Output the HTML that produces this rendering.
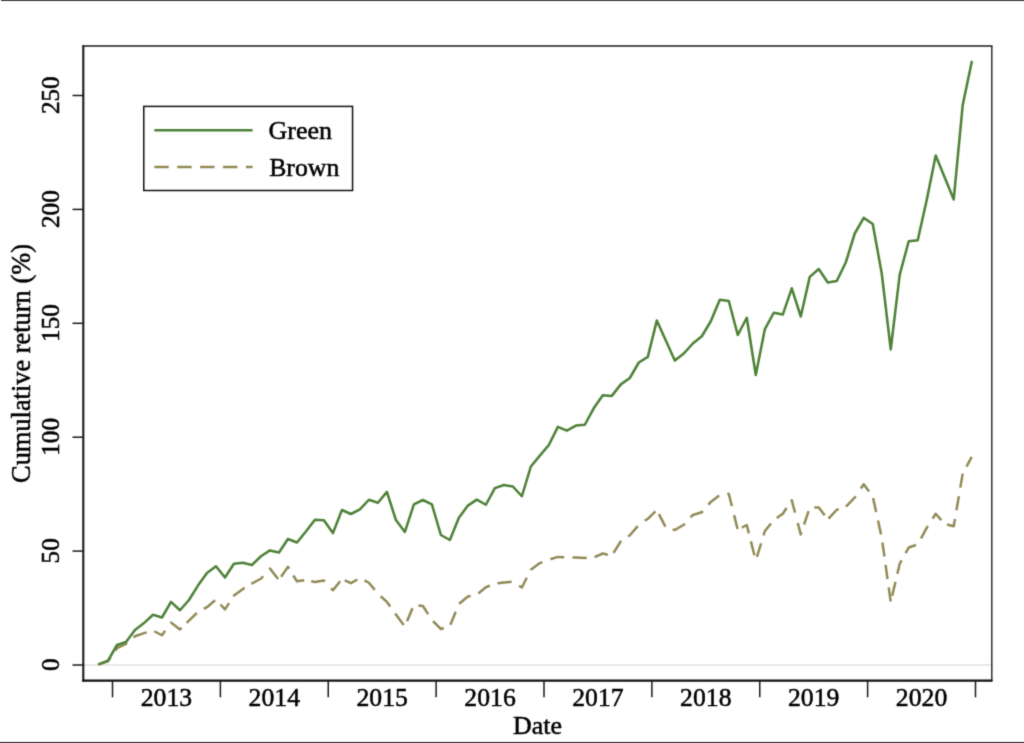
<!DOCTYPE html>
<html><head><meta charset="utf-8"><title>Cumulative return</title>
<style>
html,body{margin:0;padding:0;background:#fff;}
body{width:1024px;height:743px;position:relative;overflow:hidden;font-family:"Liberation Serif",serif;}
.t{font-family:"Liberation Serif",serif;font-size:25.7px;fill:#000;stroke:#000;stroke-width:0.5px;}
</style></head><body>
<svg width="1024" height="743" viewBox="0 0 1024 743" style="position:absolute;left:0;top:0;filter:url(#soft)">
<defs><filter id="soft" x="0" y="0" width="1024" height="743" filterUnits="userSpaceOnUse" color-interpolation-filters="sRGB"><feConvolveMatrix order="3" kernelMatrix="0.01917 0.10012 0.01917 0.10012 0.52283 0.10012 0.01917 0.10012 0.01917" divisor="1" edgeMode="duplicate" preserveAlpha="false"/></filter></defs>
<rect x="0" y="0" width="1024" height="743" fill="#fff"/>
<rect x="1" y="0" width="1023" height="1" fill="#3a3a3a"/>
<rect x="0" y="742" width="1024" height="1" fill="#2d2d2d"/>
<line x1="84" y1="665" x2="993" y2="665" stroke="#e2e2e2" stroke-width="1.6"/>
<polyline points="99.00,664.40 108.00,661.25 116.99,648.10 125.99,643.75 134.99,636.25 143.99,633.10 152.98,630.60 161.98,635.25 170.98,622.50 179.97,629.40 188.97,620.60 197.97,611.90 206.96,607.20 215.96,599.50 224.96,609.40 233.95,595.60 242.95,589.00 251.95,583.50 260.95,578.75 269.94,568.50 278.94,580.00 287.94,566.90 296.93,581.25 305.93,580.00 314.93,582.00 323.93,580.60 332.92,590.25 341.92,579.00 350.92,583.10 359.91,578.10 368.91,582.75 377.91,593.75 386.90,601.90 395.90,614.40 404.90,626.50 413.89,604.90 422.89,606.00 431.89,620.00 440.89,629.00 449.88,626.00 458.88,604.00 467.88,596.50 476.87,594.75 485.87,587.25 494.87,583.50 503.87,582.50 512.86,581.75 521.86,587.50 530.86,569.70 539.85,563.10 548.85,559.75 557.85,556.90 566.84,557.25 575.84,557.50 584.84,557.90 593.84,557.50 602.83,553.50 611.83,555.60 620.83,541.25 629.82,535.30 638.82,525.00 647.82,518.80 656.81,510.00 665.81,527.50 674.81,530.00 683.80,524.75 692.80,515.00 701.80,512.25 710.80,501.90 719.79,495.00 728.79,493.75 737.79,530.00 746.78,525.00 755.78,560.60 764.78,531.25 773.77,520.00 782.77,513.75 791.77,500.30 800.77,534.40 809.76,507.50 818.76,507.50 827.76,519.40 836.75,509.75 845.75,506.90 854.75,497.50 863.75,484.20 872.74,496.50 881.74,537.50 890.74,601.90 899.73,563.75 908.73,547.50 917.73,544.40 926.72,527.80 935.72,513.75 944.72,524.00 953.72,526.25 962.71,473.50 971.71,456.90" fill="none" stroke="#928a56" stroke-width="2.5" stroke-dasharray="14.20 8.40 14.20 8.54 14.20 7.92 14.20 9.55 14.20 7.02 14.20 8.16 14.20 7.95 14.20 7.91 14.20 7.77 14.20 9.36 14.20 5.26 14.20 7.96 14.20 7.14 14.20 9.19 14.20 5.98 14.20 8.03 14.20 8.66 14.20 8.54 14.20 7.60 14.20 8.18 14.20 8.50 14.20 7.72 14.20 8.65 14.20 8.19 14.20 8.03 14.20 8.61 14.20 8.67 14.20 8.55 14.20 8.29 14.20 7.99 14.20 7.30 14.20 8.20 14.20 8.91 14.20 6.51 14.20 7.97 14.20 8.46 14.20 8.62 14.20 8.28 14.20 9.42 14.20 5.75 14.20 8.36 14.20 9.46 14.20 8.36 14.20 8.07 14.20 7.90 14.20 10.69 14.20 8.05 14.20 8.32 14.20 6.26 14.20 7.64 14.20 9.30 14.20 7.92 14.20 8.71 14.20 8.21 14.20 8.46 14.20 8.52 14.20 6.79 14.20 8.38 14.20 8.19 14.20 8.64 14.20 8.71 14.20 7.59 14.20 9.02 14.20 8.67 14.20 8.04 14.20 26.74" stroke-linejoin="round" stroke-linecap="butt"/>
<polyline points="99.00,664.10 108.00,660.60 116.99,645.00 125.99,641.90 134.99,630.00 143.99,623.10 152.98,614.80 161.98,617.50 170.98,601.90 179.97,610.25 188.97,600.00 197.97,585.60 206.96,573.00 215.96,566.25 224.96,577.50 233.95,563.75 242.95,562.75 251.95,565.00 260.95,556.25 269.94,550.40 278.94,552.50 287.94,539.00 296.93,542.50 305.93,531.50 314.93,519.75 323.93,520.25 332.92,533.10 341.92,510.00 350.92,514.00 359.91,509.40 368.91,499.75 377.91,502.75 386.90,491.90 395.90,520.00 404.90,531.90 413.89,504.40 422.89,500.00 431.89,504.40 440.89,535.00 449.88,540.00 458.88,517.75 467.88,505.60 476.87,499.60 485.87,504.75 494.87,488.10 503.87,485.00 512.86,486.50 521.86,496.25 530.86,466.50 539.85,455.60 548.85,445.00 557.85,426.90 566.84,430.60 575.84,425.60 584.84,424.75 593.84,408.10 602.83,395.25 611.83,395.90 620.83,384.40 629.82,378.00 638.82,362.50 647.82,356.90 656.81,320.60 665.81,340.60 674.81,360.60 683.80,353.50 692.80,343.50 701.80,336.25 710.80,321.25 719.79,299.70 728.79,301.00 737.79,335.00 746.78,317.75 755.78,375.00 764.78,329.40 773.77,312.75 782.77,314.60 791.77,288.30 800.77,316.50 809.76,276.90 818.76,269.00 827.76,282.50 836.75,281.00 845.75,262.50 854.75,233.50 863.75,217.90 872.74,224.00 881.74,273.50 890.74,349.40 899.73,274.70 908.73,241.25 917.73,240.25 926.72,200.00 935.72,155.60 944.72,177.50 953.72,199.40 962.71,105.00 971.71,61.90" fill="none" stroke="#4e8238" stroke-width="2.55" stroke-linejoin="round" stroke-linecap="round"/>
<line x1="83.3" y1="45.2" x2="83.3" y2="681.8" stroke="#1a1a1a" stroke-width="2.1"/>
<line x1="82.4" y1="46" x2="992.5" y2="46" stroke="#1a1a1a" stroke-width="1.7"/>
<line x1="991.8" y1="46" x2="991.8" y2="681" stroke="#222" stroke-width="1.4"/>
<line x1="82.3" y1="680.7" x2="992.5" y2="680.7" stroke="#111" stroke-width="2.3"/>
<line x1="112.50" y1="681" x2="112.50" y2="697.3" stroke="#1a1a1a" stroke-width="1.5"/>
<line x1="220.38" y1="681" x2="220.38" y2="697.3" stroke="#1a1a1a" stroke-width="1.5"/>
<line x1="328.25" y1="681" x2="328.25" y2="697.3" stroke="#1a1a1a" stroke-width="1.5"/>
<line x1="436.12" y1="681" x2="436.12" y2="697.3" stroke="#1a1a1a" stroke-width="1.5"/>
<line x1="544.00" y1="681" x2="544.00" y2="697.3" stroke="#1a1a1a" stroke-width="1.5"/>
<line x1="651.88" y1="681" x2="651.88" y2="697.3" stroke="#1a1a1a" stroke-width="1.5"/>
<line x1="759.75" y1="681" x2="759.75" y2="697.3" stroke="#1a1a1a" stroke-width="1.5"/>
<line x1="867.62" y1="681" x2="867.62" y2="697.3" stroke="#1a1a1a" stroke-width="1.5"/>
<line x1="975.50" y1="681" x2="975.50" y2="697.3" stroke="#1a1a1a" stroke-width="1.5"/>
<text x="166.44" y="705.6" text-anchor="middle" class="t">2013</text>
<text x="274.31" y="705.6" text-anchor="middle" class="t">2014</text>
<text x="382.19" y="705.6" text-anchor="middle" class="t">2015</text>
<text x="490.06" y="705.6" text-anchor="middle" class="t">2016</text>
<text x="597.94" y="705.6" text-anchor="middle" class="t">2017</text>
<text x="705.81" y="705.6" text-anchor="middle" class="t">2018</text>
<text x="813.69" y="705.6" text-anchor="middle" class="t">2019</text>
<text x="921.56" y="705.6" text-anchor="middle" class="t">2020</text>
<line x1="72.5" y1="665.00" x2="83" y2="665.00" stroke="#1a1a1a" stroke-width="1.5"/>
<text transform="translate(58.7,664.70) rotate(-90)" text-anchor="middle" class="t" style="font-size:25.2px">0</text>
<line x1="72.5" y1="551.10" x2="83" y2="551.10" stroke="#1a1a1a" stroke-width="1.5"/>
<text transform="translate(58.7,550.80) rotate(-90)" text-anchor="middle" class="t" style="font-size:25.2px">50</text>
<line x1="72.5" y1="437.20" x2="83" y2="437.20" stroke="#1a1a1a" stroke-width="1.5"/>
<text transform="translate(58.7,436.90) rotate(-90)" text-anchor="middle" class="t" style="font-size:25.2px">100</text>
<line x1="72.5" y1="323.30" x2="83" y2="323.30" stroke="#1a1a1a" stroke-width="1.5"/>
<text transform="translate(58.7,323.00) rotate(-90)" text-anchor="middle" class="t" style="font-size:25.2px">150</text>
<line x1="72.5" y1="209.40" x2="83" y2="209.40" stroke="#1a1a1a" stroke-width="1.5"/>
<text transform="translate(58.7,209.10) rotate(-90)" text-anchor="middle" class="t" style="font-size:25.2px">200</text>
<line x1="72.5" y1="95.50" x2="83" y2="95.50" stroke="#1a1a1a" stroke-width="1.5"/>
<text transform="translate(58.7,95.20) rotate(-90)" text-anchor="middle" class="t" style="font-size:25.2px">250</text>
<text x="537.5" y="734" text-anchor="middle" class="t" style="font-size:25.9px">Date</text>
<text transform="translate(30.2,363.5) rotate(-90)" text-anchor="middle" class="t" style="font-size:26.4px">Cumulative return (%)</text>
<rect x="143.75" y="106.4" width="208.8" height="84.1" fill="#fff" stroke="#111" stroke-width="1.5"/>
<line x1="154.3" y1="130.2" x2="252.6" y2="130.2" stroke="#4e8238" stroke-width="2.55"/>
<line x1="154.3" y1="167" x2="252.6" y2="167" stroke="#928a56" stroke-width="2.5" stroke-dasharray="14.4 8.5"/>
<text x="268.5" y="139.3" class="t" style="font-size:26px">Green</text>
<text x="269.2" y="176.3" class="t" style="font-size:25.75px">Brown</text>
</svg>
</body></html>
